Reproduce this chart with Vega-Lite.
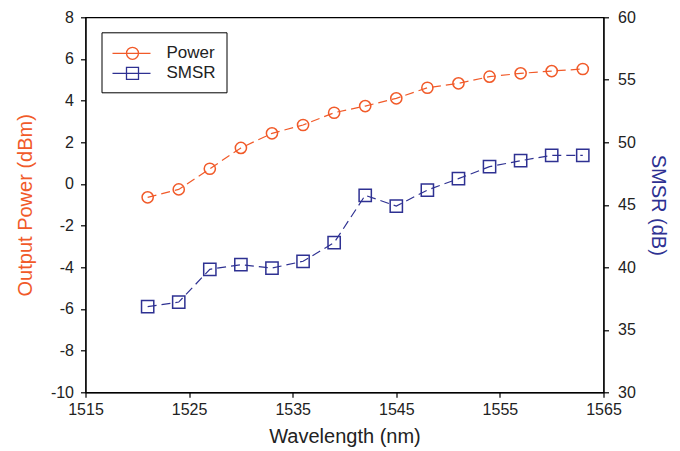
{
  "$schema": "https://vega.github.io/schema/vega-lite/v6.json",
  "autosize": "none",
  "width": 518,
  "height": 375,
  "padding": {"left": 85.5, "top": 17.3, "right": 76.5, "bottom": 58.7},
  "background": "white",
  "config": {
    "font": "Liberation Sans",
    "view": {"stroke": "black", "strokeWidth": 1.2},
    "axis": {
      "grid": false,
      "domainColor": "black",
      "domainWidth": 1.2,
      "tickColor": "black",
      "tickWidth": 1.2,
      "tickSize": 5,
      "labelFlush": false,
      "labelFont": "Liberation Sans",
      "labelFontSize": 16,
      "labelColor": "#222222",
      "labelExpr": "'' + datum.value",
      "titleFont": "Liberation Sans",
      "titleFontSize": 20,
      "titleFontWeight": "normal"
    }
  },
  "data": {
    "values": [
      {"wavelength": 1521, "power": -0.64, "smsr": 36.85},
      {"wavelength": 1524, "power": -0.26, "smsr": 37.22},
      {"wavelength": 1527, "power": 0.73, "smsr": 39.84},
      {"wavelength": 1530, "power": 1.73, "smsr": 40.21},
      {"wavelength": 1533, "power": 2.43, "smsr": 39.94},
      {"wavelength": 1536, "power": 2.83, "smsr": 40.48},
      {"wavelength": 1539, "power": 3.42, "smsr": 41.97},
      {"wavelength": 1542, "power": 3.74, "smsr": 45.76},
      {"wavelength": 1545, "power": 4.11, "smsr": 44.9},
      {"wavelength": 1548, "power": 4.62, "smsr": 46.18},
      {"wavelength": 1551, "power": 4.83, "smsr": 47.09},
      {"wavelength": 1554, "power": 5.15, "smsr": 48.05},
      {"wavelength": 1557, "power": 5.31, "smsr": 48.53},
      {"wavelength": 1560, "power": 5.42, "smsr": 48.96},
      {"wavelength": 1563, "power": 5.52, "smsr": 48.96}
    ]
  },
  "encoding": {
    "x": {
      "field": "wavelength",
      "type": "quantitative",
      "scale": {"domain": [1515, 1565], "nice": false, "zero": false},
      "axis": {"values": [1515, 1525, 1535, 1545, 1555, 1565], "title": "Wavelength (nm)", "labelPadding": 4, "titlePadding": 9, "titleColor": "#222222"}
    }
  },
  "layer": [
    {
      "encoding": {
        "y": {
          "field": "power",
          "type": "quantitative",
          "scale": {"domain": [-10, 8], "nice": false, "zero": false},
          "axis": {"values": [-10, -8, -6, -4, -2, 0, 2, 4, 6, 8], "title": "Output Power (dBm)", "titleColor": "#F15A29", "labelPadding": 7, "titlePadding": 15}
        }
      },
      "layer": [
        {"mark": {"type": "line", "color": "#F15A29", "strokeWidth": 1.2, "strokeDash": [9, 5]}},
        {
          "mark": {"type": "point", "filled": false, "size": 125, "strokeWidth": 1.5, "opacity": 1},
          "encoding": {
            "color": {
              "datum": "Power",
              "type": "nominal",
              "scale": {"domain": ["Power", "SMSR"], "range": ["#F15A29", "#2E3192"]},
              "legend": {
                "title": null,
                "orient": "none",
                "legendX": 16,
                "legendY": 15,
                "strokeColor": "black",
                "fillColor": "white",
                "padding": 10,
                "rowPadding": 0,
                "labelFontSize": 17,
                "labelColor": "#222222",
                "labelFont": "Liberation Sans",
                "symbolSize": 400,
                "symbolStrokeWidth": 1.3,
                "symbolFillColor": "transparent",
                "labelOffset": 33,
                "symbolType": {"expr": "datum.value === 'Power' ? 'M-1,0H2.8 M1.6,0A0.6,0.6 0 1,1 0.4,0A0.6,0.6 0 1,1 1.6,0' : 'M-1,0H2.8 M0.4,-0.6H1.6V0.6H0.4Z'"}
              }
            }
          }
        }
      ]
    },
    {
      "encoding": {
        "y": {
          "field": "smsr",
          "type": "quantitative",
          "scale": {"domain": [30, 60], "nice": false, "zero": false},
          "axis": {"orient": "right", "values": [30, 35, 40, 45, 50, 55, 60], "title": "SMSR (dB)", "titleColor": "#2E3192", "labelPadding": 9, "titlePadding": 12}
        }
      },
      "layer": [
        {"mark": {"type": "line", "color": "#2E3192", "strokeWidth": 1.2, "strokeDash": [9, 5]}},
        {
          "mark": {"type": "point", "shape": "square", "filled": false, "size": 150, "strokeWidth": 1.5, "opacity": 1},
          "encoding": {"color": {"datum": "SMSR", "type": "nominal"}}
        }
      ]
    }
  ],
  "resolve": {"scale": {"y": "independent"}}
}
